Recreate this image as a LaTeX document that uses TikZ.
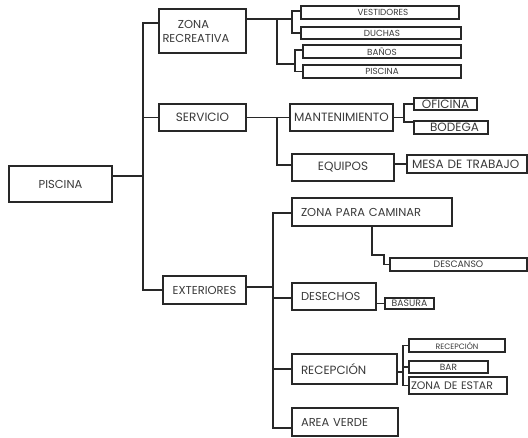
\documentclass[tikz,border=0pt]{standalone}
\usepackage{fontspec}
\setmainfont{Poppins}
\usepackage{xcolor}
\usetikzlibrary{positioning}
\definecolor{ink}{RGB}{40,40,40}
\definecolor{slate}{RGB}{58,58,58}

\begin{document}
\begin{tikzpicture}[x=1pt, y=-1pt,
    box/.style={draw=ink, line width=1.4pt, fill=white, text=slate, inner sep=0pt,
                font=\fontsize{11.5}{14}\selectfont},
    mid/.style={box, line width=1.2pt, font=\fontsize{12}{12}\selectfont},
    small/.style={box, line width=1.2pt, font=\fontsize{8.8}{9}\selectfont},
    lbox/.style={align=left, inner xsep=9pt},
    wire/.style={draw=ink, line width=1.4pt}
  ]
  \useasboundingbox (0,0) rectangle (528,437);

  % --- main branches ---
  \node[box, minimum width=103pt, minimum height=36pt] (piscina) at (60.5,184) {PISCINA};
  \node[box, minimum width=87pt, minimum height=44pt, align=center] (zonarec) at (202.5,31)
       {ZONA\hspace*{18pt}\\RECREATIVA\hspace*{13pt}};
  \node[box, minimum width=87pt, minimum height=27pt, font=\fontsize{12}{12}\selectfont] (servicio) at (202.5,117.5) {SERVICIO};
  \node[box, minimum width=83pt, minimum height=28pt] (exteriores) at (204.5,290) {EXTERIORES};

  % zona recreativa
  \node[small, minimum width=158pt, minimum height=13pt] (vestidores) at (380,12.5) {\hspace{6pt}VESTIDORES};
  \node[small, minimum width=160pt, minimum height=12pt] (duchas) at (381,33) {\hspace{2pt}DUCHAS};
  \node[small, minimum width=158pt, minimum height=13pt] (banos) at (382,51.5) {BAÑOS};
  \node[small, minimum width=158pt, minimum height=13pt] (piscinab) at (382,71.5) {PISCINA};

  % servicio
  \node[box, minimum width=103pt, minimum height=27pt, font=\fontsize{12}{12}\selectfont] (mant) at (341.5,117.5) {MANTENIMIENTO};
  \node[box, minimum width=102pt, minimum height=27pt, font=\fontsize{12}{12}\selectfont] (equipos) at (343,167.5) {EQUIPOS};
  \node[mid, minimum width=63pt, minimum height=12pt] (oficina) at (445.5,104) {OFICINA};
  \node[mid, minimum width=74pt, minimum height=13pt] (bodega) at (451,127.5) {\hspace{7pt}BODEGA};
  \node[mid, lbox, inner xsep=5pt, text width=110pt, minimum height=18pt] (mesa) at (467,164) {MESA DE TRABAJO};

  % exteriores
  \node[box, lbox, text width=142pt, minimum height=28pt] (zpc) at (372,212) {ZONA PARA CAMINAR};
  \node[box, lbox, text width=66pt, minimum height=27pt] (desechos) at (334,296.5) {DESECHOS};
  \node[box, lbox, text width=87pt, minimum height=30pt, font=\fontsize{11.9}{12}\selectfont] (recepcion) at (344.5,369) {RECEPCIÓN};
  \node[box, lbox, text width=88pt, minimum height=28pt] (areaverde) at (345,422) {AREA VERDE};
  \node[small, minimum width=137pt, minimum height=13pt, font=\fontsize{9.3}{9}\selectfont] (descanso) at (458.5,264.5) {DESCANSO};
  \node[small, minimum width=49pt, minimum height=11pt, font=\fontsize{9.3}{9}\selectfont] (basura) at (409.5,303.5) {BASURA};
  \node[small, minimum width=96pt, minimum height=13pt, font=\fontsize{7.8}{8}\selectfont] (recep2) at (457,345.5) {RECEPCIÓN};
  \node[small, minimum width=79pt, minimum height=12pt, font=\fontsize{9}{9}\selectfont] (bar) at (448.5,367) {BAR\hspace{13pt}};
  \node[small, lbox, inner xsep=2pt, text width=94pt, minimum height=17pt,
        font=\fontsize{10.9}{11}\selectfont] (zde) at (458,385.5) {ZONA DE ESTAR};

  % --- connectors ---
  \coordinate (trunk) at (143,0);
  \draw[wire] ([yshift=8pt]piscina.east) -- ([yshift=8pt]trunk |- piscina.east);
  \draw[wire] ([yshift=8pt]zonarec.west) -| (trunk |- exteriores.west) -- (exteriores.west);
  \draw[wire] (servicio.west) -- (trunk |- servicio.west);

  % zona recreativa brackets
  \coordinate (zr) at (292,19);
  \coordinate (zrj) at (277,19);
  \coordinate (zr2) at (295,64);
  \draw[wire] ([yshift=12pt]zonarec.east) -- (zr);
  \draw[wire] ([yshift=1.5pt]vestidores.west) -| (zr) |- (duchas.west);
  \draw[wire] (zrj) |- (zr2);
  \draw[wire] ([yshift=1.5pt]banos.west) -| (zr2) |- (piscinab.west);

  % servicio brackets
  \coordinate (sv) at (277,0);
  \coordinate (mt) at (404,117.5);
  \draw[wire] (servicio.east) -- (mant.west);
  \draw[wire] (sv |- servicio.east) |- ([yshift=2.5pt]equipos.west);
  \draw[wire] (mant.east) -- (mt);
  \draw[wire] (oficina.west) -| (mt) |- ([yshift=5.5pt]bodega.west);
  \draw[wire] (equipos.east |- mesa.west) -- (mesa.west);

  % exteriores brackets
  \coordinate (ex) at (273,0);
  \coordinate (zc) at (384,255);
  \coordinate (rc) at (403,0);
  \draw[wire] ([yshift=3pt]exteriores.east) -- ([yshift=3pt]ex |- exteriores.east);
  \draw[wire] ([yshift=-1pt]zpc.west) -| ([yshift=-6pt]ex |- areaverde.west) -- ([yshift=-6pt]areaverde.west);
  \draw[wire] ([yshift=-1.5pt]desechos.west) -- ([yshift=-1.5pt]ex |- desechos.west);
  \draw[wire] (recepcion.west) -- (ex |- recepcion.west);
  \draw[wire] (zpc.south) |- (zc) |- (descanso.west);
  \draw[wire] (basura.west) -- (desechos.east |- basura.west);
  \draw[wire] ([yshift=-3pt]recepcion.east) -- ([yshift=-3pt]rc |- recepcion.east);
  \draw[wire] (recep2.west) -| (rc |- zde.west) -- (zde.west);
  \draw[wire] (bar.west) -- (rc |- bar.west);
\end{tikzpicture}
\end{document}
